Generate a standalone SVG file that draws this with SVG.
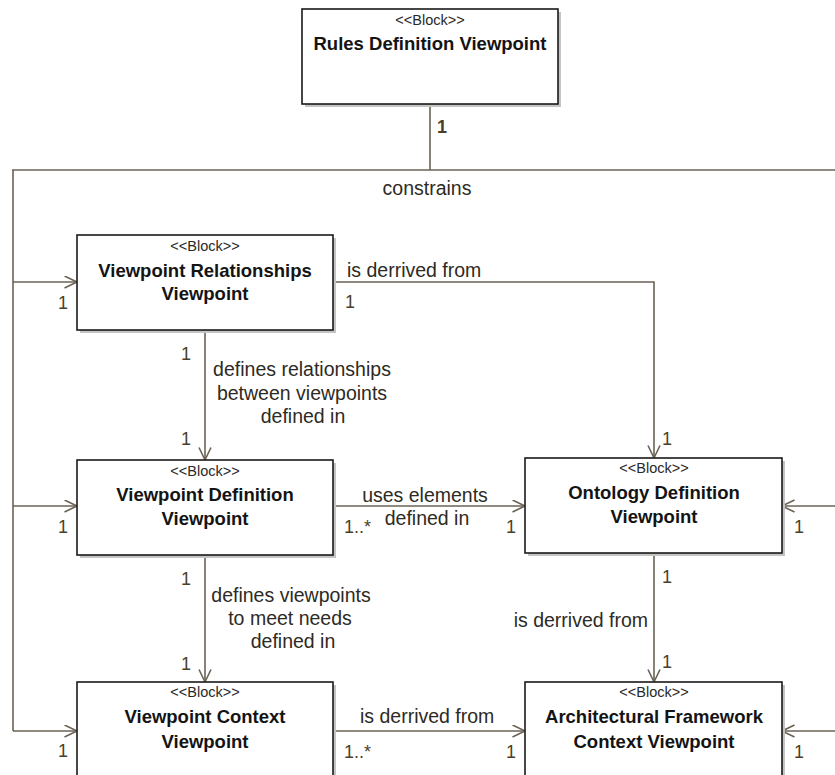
<svg xmlns="http://www.w3.org/2000/svg" width="835" height="775" viewBox="0 0 835 775">
  <style>
    .box { fill: #ffffff; stroke: #1a1a1a; stroke-width: 1.6; }
    .shadow { fill: #c4c4c4; }
    .stereo { font-family: "Liberation Sans", Arial, sans-serif; font-size: 14.5px; fill: #2a2a2a; text-anchor: middle; }
    .title { font-family: "Liberation Sans", Arial, sans-serif; font-size: 18.5px; font-weight: bold; fill: #141414; text-anchor: middle; }
    .conn { fill: none; stroke: #6b6254; stroke-width: 1.6; }
    .lbl { font-family: "Liberation Sans", Arial, sans-serif; font-size: 19.5px; fill: #2e2a24; }
    .mid { text-anchor: middle; }
    .end { text-anchor: end; }
    .mult { font-family: "Liberation Sans", Arial, sans-serif; font-size: 18px; fill: #4a3f2a; }
  </style>
  <defs>
    <marker id="open" markerUnits="userSpaceOnUse" markerWidth="16" markerHeight="14" refX="13" refY="6.5" orient="auto">
      <path d="M0.5,0.5 L13,6.5 L0.5,12.5" fill="none" stroke="#6b6254" stroke-width="1.6"/>
    </marker>
  </defs>
  <rect width="835" height="775" fill="#ffffff"/>

  <!-- connectors -->
  <g id="connectors">
    <!-- constrains: Rules Definition Viewpoint to all other blocks -->
    <path class="conn" d="M430,104 V170"/>
    <path class="conn" d="M12,170 H835"/>
    <path class="conn" d="M13,170 V731"/>
    <path class="conn" d="M13,282 H77" marker-end="url(#open)"/>
    <path class="conn" d="M13,506 H77" marker-end="url(#open)"/>
    <path class="conn" d="M13,731 H77" marker-end="url(#open)"/>
    <path class="conn" d="M835,506 H782" marker-end="url(#open)"/>
    <path class="conn" d="M835,731 H782" marker-end="url(#open)"/>
    <text class="mult" x="437" y="133" font-weight="bold" fill="#141414">1</text>
    <text class="lbl mid" x="427" y="195">constrains</text>
    <text class="mult" x="58" y="309">1</text>
    <text class="mult" x="58" y="533">1</text>
    <text class="mult" x="58" y="757">1</text>
    <text class="mult" x="794" y="533">1</text>
    <text class="mult" x="794" y="758">1</text>

    <!-- Viewpoint Relationships -> Ontology Definition -->
    <path class="conn" d="M333,282 H654 V458" marker-end="url(#open)"/>
    <text class="lbl" x="347" y="277">is derrived from</text>
    <text class="mult" x="345" y="308">1</text>
    <text class="mult" x="662" y="445">1</text>

    <!-- Viewpoint Relationships -> Viewpoint Definition -->
    <path class="conn" d="M205,330 V460" marker-end="url(#open)"/>
    <text class="mult" x="181" y="360">1</text>
    <text class="lbl mid" x="302" y="376">defines relationships</text>
    <text class="lbl mid" x="302" y="400">between viewpoints</text>
    <text class="lbl mid" x="303" y="423">defined in</text>
    <text class="mult" x="181" y="445">1</text>

    <!-- Viewpoint Definition -> Ontology Definition -->
    <path class="conn" d="M333,506 H525" marker-end="url(#open)"/>
    <text class="lbl mid" x="425" y="502">uses elements</text>
    <text class="lbl mid" x="427" y="525">defined in</text>
    <text class="mult" x="344" y="533">1..*</text>
    <text class="mult" x="506" y="533">1</text>

    <!-- Viewpoint Definition -> Viewpoint Context -->
    <path class="conn" d="M205,555 V682" marker-end="url(#open)"/>
    <text class="mult" x="181" y="585">1</text>
    <text class="lbl mid" x="291" y="602">defines viewpoints</text>
    <text class="lbl mid" x="290" y="625">to meet needs</text>
    <text class="lbl mid" x="293" y="648">defined in</text>
    <text class="mult" x="181" y="670">1</text>

    <!-- Ontology Definition -> Architectural Framework Context -->
    <path class="conn" d="M654,553 V682" marker-end="url(#open)"/>
    <text class="mult" x="662" y="583">1</text>
    <text class="lbl end" x="648" y="627">is derrived from</text>
    <text class="mult" x="662" y="668">1</text>

    <!-- Viewpoint Context -> Architectural Framework Context -->
    <path class="conn" d="M333,731 H525" marker-end="url(#open)"/>
    <text class="lbl" x="360" y="723">is derrived from</text>
    <text class="mult" x="344" y="758">1..*</text>
    <text class="mult" x="506" y="758">1</text>
  </g>

  <!-- blocks -->
  <g id="rules-definition">
    <rect class="shadow" x="305" y="12" width="256" height="95"/>
    <rect class="box" x="302" y="9" width="256" height="95"/>
    <text class="stereo" x="430" y="25">&lt;&lt;Block&gt;&gt;</text>
    <text class="title" x="430" y="50">Rules Definition Viewpoint</text>
  </g>

  <g id="viewpoint-relationships">
    <rect class="shadow" x="80" y="238" width="256" height="95"/>
    <rect class="box" x="77" y="235" width="256" height="95"/>
    <text class="stereo" x="205" y="251">&lt;&lt;Block&gt;&gt;</text>
    <text class="title" x="205" y="277">Viewpoint Relationships</text>
    <text class="title" x="205" y="300">Viewpoint</text>
  </g>

  <g id="viewpoint-definition">
    <rect class="shadow" x="80" y="463" width="256" height="95"/>
    <rect class="box" x="77" y="460" width="256" height="95"/>
    <text class="stereo" x="205" y="476">&lt;&lt;Block&gt;&gt;</text>
    <text class="title" x="205" y="501">Viewpoint Definition</text>
    <text class="title" x="205" y="525">Viewpoint</text>
  </g>

  <g id="ontology-definition">
    <rect class="shadow" x="528" y="461" width="257" height="95"/>
    <rect class="box" x="525" y="458" width="257" height="95"/>
    <text class="stereo" x="654" y="473">&lt;&lt;Block&gt;&gt;</text>
    <text class="title" x="654" y="499">Ontology Definition</text>
    <text class="title" x="654" y="523">Viewpoint</text>
  </g>

  <g id="viewpoint-context">
    <rect class="shadow" x="80" y="685" width="256" height="120"/>
    <rect class="box" x="77" y="682" width="256" height="120"/>
    <text class="stereo" x="205" y="697">&lt;&lt;Block&gt;&gt;</text>
    <text class="title" x="205" y="723">Viewpoint Context</text>
    <text class="title" x="205" y="748">Viewpoint</text>
  </g>

  <g id="architectural-framework-context">
    <rect class="shadow" x="528" y="685" width="257" height="120"/>
    <rect class="box" x="525" y="682" width="257" height="120"/>
    <text class="stereo" x="654" y="697">&lt;&lt;Block&gt;&gt;</text>
    <text class="title" x="654" y="723">Architectural Framework</text>
    <text class="title" x="654" y="748">Context Viewpoint</text>
  </g>
</svg>
